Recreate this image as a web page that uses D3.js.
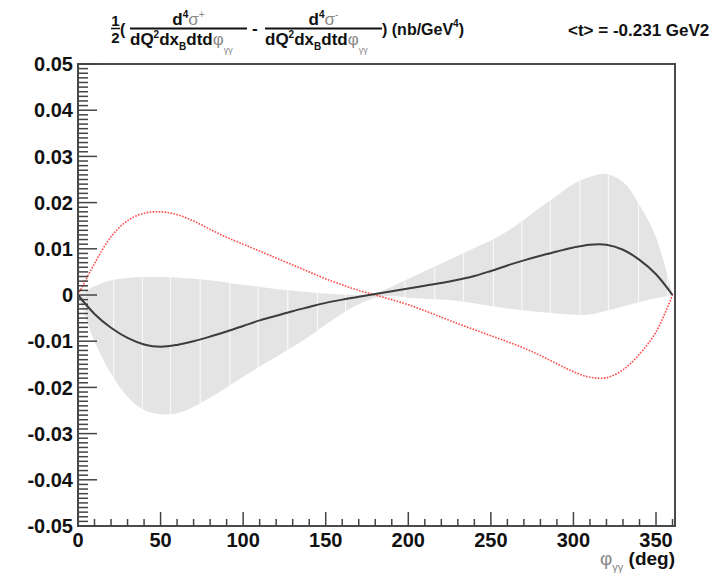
<!DOCTYPE html>
<html>
<head>
<meta charset="utf-8">
<script src="https://cdn.jsdelivr.net/npm/d3@7"></script>
<style>
  body { margin: 0; background: #fff; }
  svg { display: block; font-family: "Liberation Sans", Arial, sans-serif; }
  .tick-label { font-size: 20px; font-weight: bold; fill: #111; }
  .title { font-size: 17px; font-weight: bold; fill: #111; }
  .greek { font-weight: normal; fill: #888; }
</style>
</head>
<body>
<div id="chart"></div>
<script>
// phi_gg (deg) sampling of the curves
var phi = [0, 10, 20, 30, 40, 50, 60, 70, 80, 90, 100, 110, 120, 130, 140, 150, 160, 170, 180,
           190, 200, 210, 220, 230, 240, 250, 260, 270, 280, 290, 300, 310, 320, 330, 340, 350, 360];

// central value (black)
var central = [0, -0.0041, -0.0071, -0.0093, -0.0107, -0.0112, -0.0108, -0.0100, -0.0090, -0.0079,
               -0.0067, -0.0055, -0.0045, -0.0035, -0.0026, -0.0017, -0.0010, -0.0004, 0.0002,
               0.0008, 0.0014, 0.0020, 0.0026, 0.0033, 0.0041, 0.0052, 0.0064, 0.0075, 0.0085,
               0.0094, 0.0103, 0.0109, 0.0109, 0.0098, 0.0076, 0.0045, 0];

// red curve
var redCurve = [0, 0.0068, 0.0126, 0.0161, 0.0177, 0.0180, 0.0174, 0.0160, 0.0142, 0.0125,
                0.0110, 0.0095, 0.0080, 0.0065, 0.0050, 0.0035, 0.0022, 0.0010, 0.0000,
                -0.0010, -0.0021, -0.0034, -0.0048, -0.0062, -0.0075, -0.0088, -0.0101, -0.0115,
                -0.0131, -0.0149, -0.0166, -0.0178, -0.0179, -0.0162, -0.0128, -0.0080, 0];

// error band
var bandLow = [0, -0.0100, -0.0170, -0.0220, -0.0249, -0.0258, -0.0256, -0.0242, -0.0222, -0.0200,
               -0.0177, -0.0155, -0.0134, -0.0112, -0.0090, -0.0064, -0.0040, -0.0020, -0.0006,
               -0.0002, -0.0006, -0.0008, -0.0010, -0.0013, -0.0018, -0.0024, -0.0029, -0.0033,
               -0.0037, -0.0040, -0.0043, -0.0042, -0.0034, -0.0025, -0.0015, -0.0007, 0];
var bandHigh = [0, 0.0019, 0.0032, 0.0037, 0.0039, 0.0039, 0.0038, 0.0035, 0.0032, 0.0027,
                0.0022, 0.0018, 0.0013, 0.0009, 0.0006, 0.0003, 0.0001, 0.0000, 0.0004,
                0.0018, 0.0035, 0.0052, 0.0068, 0.0085, 0.0102, 0.0118, 0.0138, 0.0163, 0.0190,
                0.0215, 0.0240, 0.0256, 0.0262, 0.0245, 0.0195, 0.0125, 0];

// white seams visible inside the band
var seamPhi = [4, 21.6, 39, 56, 74, 92, 109, 127, 145, 162, 198, 216, 233.4, 251.6, 268.8, 286, 304, 321.2, 339.4, 357];

var xTicks = [0, 50, 100, 150, 200, 250, 300, 350];
var yTicks = [-0.05, -0.04, -0.03, -0.02, -0.01, 0, 0.01, 0.02, 0.03, 0.04, 0.05];
var yTickLabels = ['-0.05', '-0.04', '-0.03', '-0.02', '-0.01', '0', '0.01', '0.02', '0.03', '0.04', '0.05'];

var w = 727, h = 577,
    pLeft = 78, pRight = 675, pTop = 64, pBottom = 526;

var x = d3.scaleLinear().domain([0, 361.5]).range([pLeft, pRight]);
var y = d3.scaleLinear().domain([-0.05, 0.05]).range([pBottom, pTop]);

var svg = d3.select('#chart')
  .append('svg')
  .attr('width', w)
  .attr('height', h);

var data = phi.map(function(p, i) {
  return {phi: p, c: central[i], r: redCurve[i], lo: bandLow[i], hi: bandHigh[i]};
});

var curve = d3.curveCatmullRom.alpha(0.5);

var band = d3.area()
  .x(function(d) { return x(d.phi); })
  .y0(function(d) { return y(d.lo); })
  .y1(function(d) { return y(d.hi); })
  .curve(curve);

svg.append('clipPath').attr('id', 'bandClip')
  .append('path').attr('d', band(data));

svg.append('path')
  .attr('d', band(data))
  .attr('fill', '#e4e4e4');

svg.append('g').attr('clip-path', 'url(#bandClip)')
  .selectAll('line').data(seamPhi)
  .enter().append('line')
  .attr('x1', function(d) { return x(d); })
  .attr('x2', function(d) { return x(d); })
  .attr('y1', pTop)
  .attr('y2', pBottom)
  .attr('stroke', '#fff')
  .attr('stroke-width', 1.2)
  .attr('stroke-opacity', 0.75);

svg.append('path')
  .attr('d', d3.line()
    .x(function(d) { return x(d.phi); })
    .y(function(d) { return y(d.r); })
    .curve(curve)(data))
  .attr('fill', 'none')
  .attr('stroke', '#ff4a4a')
  .attr('stroke-width', 1.6)
  .attr('stroke-dasharray', '1.6,1.4');

svg.append('path')
  .attr('d', d3.line()
    .x(function(d) { return x(d.phi); })
    .y(function(d) { return y(d.c); })
    .curve(curve)(data))
  .attr('fill', 'none')
  .attr('stroke', '#3c3c3c')
  .attr('stroke-width', 2);

// frame
svg.append('rect')
  .attr('x', pLeft).attr('y', pTop)
  .attr('width', pRight - pLeft).attr('height', pBottom - pTop)
  .attr('fill', 'none')
  .attr('stroke', '#4a4a4a')
  .attr('stroke-width', 2);

// y axis ticks (inside)
var yMinor = d3.range(-50, 51).map(function(v) { return v / 1000; });
svg.append('g').selectAll('line').data(yMinor)
  .enter().append('line')
  .attr('x1', pLeft)
  .attr('x2', function(d, i) { return pLeft + (i % 10 === 0 ? 19 : 10); })
  .attr('y1', function(d) { return y(d); })
  .attr('y2', function(d) { return y(d); })
  .attr('stroke', '#444')
  .attr('stroke-width', 1.5);

svg.append('g').selectAll('text').data(yTicks)
  .enter().append('text')
  .attr('class', 'tick-label')
  .attr('x', pLeft - 5)
  .attr('y', function(d) { return y(d); })
  .attr('dy', '0.36em')
  .attr('text-anchor', 'end')
  .text(function(d, i) { return yTickLabels[i]; });

// x axis ticks (inside)
var xMinor = d3.range(0, 361, 10);
svg.append('g').selectAll('line').data(xMinor)
  .enter().append('line')
  .attr('x1', function(d) { return x(d); })
  .attr('x2', function(d) { return x(d); })
  .attr('y1', pBottom)
  .attr('y2', function(d) { return pBottom - (d % 50 === 0 ? 14 : 7); })
  .attr('stroke', '#444')
  .attr('stroke-width', 1.5);

svg.append('g').selectAll('text').data(xTicks)
  .enter().append('text')
  .attr('class', 'tick-label')
  .attr('x', function(d) { return x(d); })
  .attr('y', 547)
  .attr('text-anchor', 'middle')
  .text(function(d) { return d; });

// x axis title
var xt = svg.append('text').attr('class', 'title')
  .attr('x', pRight).attr('y', 565)
  .attr('text-anchor', 'end')
  .style('font-size', '19px');
xt.append('tspan').attr('class', 'greek').text('φ');
xt.append('tspan').attr('class', 'greek').attr('dy', 6).style('font-size', '11px').text('γγ');
xt.append('tspan').attr('dy', -6).text(' (deg)');

// header: 1/2 ( frac - frac ) (nb/GeV^4)
svg.append('text').attr('class', 'title').attr('x', 115.5).attr('y', 26)
  .attr('text-anchor', 'middle').style('font-size', '15px').text('1');
svg.append('line').attr('x1', 111).attr('x2', 120).attr('y1', 28.5).attr('y2', 28.5)
  .attr('stroke', '#111').attr('stroke-width', 1.5);
svg.append('text').attr('class', 'title').attr('x', 115.5).attr('y', 43)
  .attr('text-anchor', 'middle').style('font-size', '15px').text('2');
svg.append('text').attr('class', 'title').attr('x', 120).attr('y', 35)
  .style('font-size', '16px').text('(');

function fraction(x0, x1, sign) {
  var num = svg.append('text').attr('class', 'title')
    .attr('x', (x0 + x1) / 2).attr('y', 25)
    .attr('text-anchor', 'middle');
  num.append('tspan').text('d');
  num.append('tspan').attr('dy', -7).style('font-size', '10px').text('4');
  num.append('tspan').attr('class', 'greek').attr('dy', 7).text('σ');
  num.append('tspan').attr('class', 'greek').attr('dy', -7).style('font-size', '10px').text(sign);

  svg.append('line').attr('x1', x0).attr('x2', x1).attr('y1', 28.5).attr('y2', 28.5)
    .attr('stroke', '#111').attr('stroke-width', 1.8);

  var den = svg.append('text').attr('class', 'title')
    .attr('x', x0).attr('y', 45);
  den.append('tspan').text('dQ');
  den.append('tspan').attr('dy', -7).style('font-size', '10px').text('2');
  den.append('tspan').attr('dy', 7).text('dx');
  den.append('tspan').attr('dy', 5).style('font-size', '10px').text('B');
  den.append('tspan').attr('dy', -5).text('dtd');
  den.append('tspan').attr('class', 'greek').text('φ');
  den.append('tspan').attr('class', 'greek').attr('dy', 8).style('font-size', '9px').text('γγ');
}

fraction(130, 247, '+');
svg.append('text').attr('class', 'title').attr('x', 252).attr('y', 34).text('-');
fraction(265, 382, '-');

var unit = svg.append('text').attr('class', 'title').attr('x', 382).attr('y', 35)
  .style('font-size', '16px');
unit.append('tspan').text(') (nb/GeV');
unit.append('tspan').attr('dy', -8).style('font-size', '10px').text('4');
unit.append('tspan').attr('dy', 8).text(')');

svg.append('text').attr('class', 'title').attr('x', 568).attr('y', 36)
  .text('<t> = -0.231 GeV2');
</script>
</body>
</html>
